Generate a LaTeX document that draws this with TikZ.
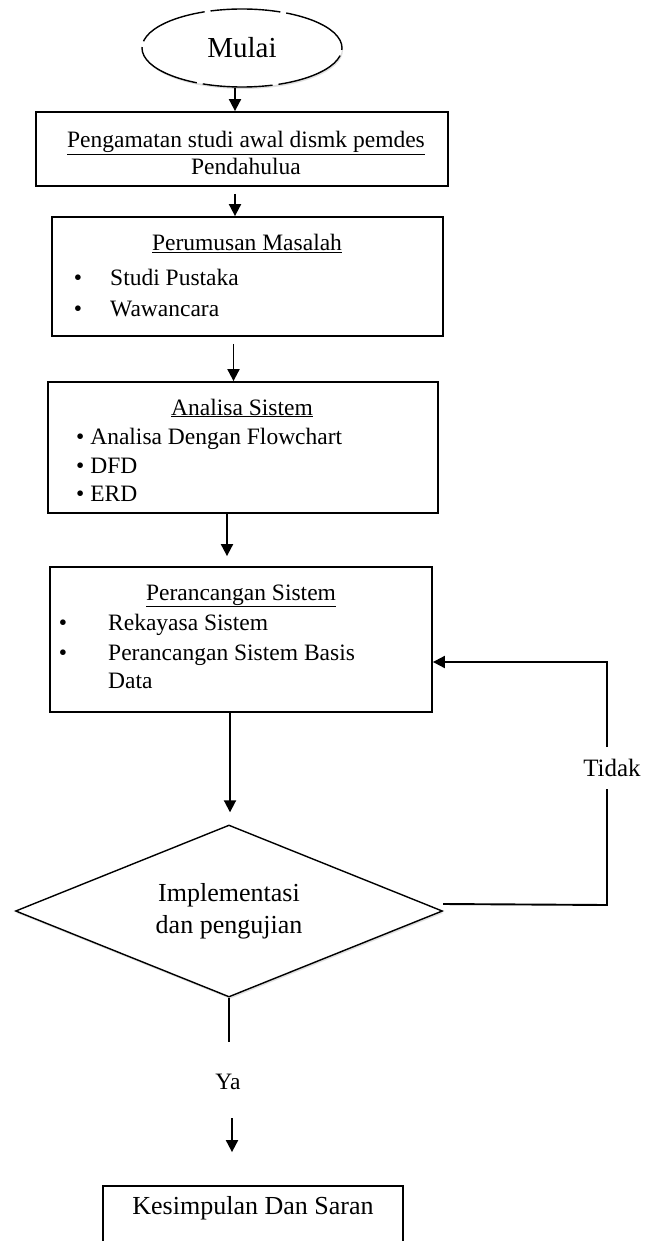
\documentclass[tikz,border=0pt]{standalone}
\usepackage{fontspec}
\setmainfont{Liberation Serif}
\usetikzlibrary{arrows.meta,shapes.geometric,shadows,calc}
\tikzset{
  box/.style={draw, rectangle, line width=1.8pt, inner sep=0pt, fill=white},
  arr/.style={line width=1.9pt, -{Triangle[width=12pt,length=12pt]}},
  ln/.style={line width=1.9pt},
  txt/.style={inner sep=0pt, font=\fontsize{23.5}{27}\selectfont},
}
\begin{document}
\begin{tikzpicture}[x=1pt,y=-1pt]
\useasboundingbox (0,0) rectangle (649,1241);
\clip (0,0) rectangle (649,1241);
\fill[white] (0,0) rectangle (649,1241);

% start
\node[ellipse, draw, line width=1.4pt, dash pattern=on 70pt off 6pt, fill=white,
      drop shadow={opacity=0.25, shadow xshift=1pt, shadow yshift=-2pt},
      minimum width=200pt, minimum height=78pt, inner sep=0pt,
      font=\fontsize{29}{33}\selectfont] (mulai) at (242,48) {Mulai};

% boxes
\node[box, minimum width=412pt, minimum height=74pt] (b1) at (242,149) {};
\node[box, minimum width=391pt, minimum height=119pt] (b2) at (247.5,276.5) {};
\node[box, minimum width=390pt, minimum height=131pt] (b3) at (243,447.5) {};
\node[box, minimum width=382pt, minimum height=145pt] (b4) at (241,639.5) {};
\node[box, minimum width=300pt, minimum height=64pt] (b5) at (253,1218) {};

% box 1 text
\node[txt, anchor=base] (t1a) at (246,148) {\underline{Pengamatan studi awal dismk pemdes}};
\node[txt, anchor=base] (t1b) at (246,175) {Pendahulua};

% box 2 text
\node[txt, anchor=base] (t2) at (247,251) {\underline{Perumusan Masalah}};
\node[txt, anchor=base] (t2bu1) at (78,285) {\textbullet};
\node[txt, anchor=base west] (t2i1) at (110,285) {Studi Pustaka};
\node[txt, anchor=base] (t2bu2) at (78,316) {\textbullet};
\node[txt, anchor=base west] (t2i2) at (110,316) {Wawancara};

% box 3 text
\node[txt, anchor=base] (t3) at (242,415) {\underline{Analisa Sistem}};
\node[txt, anchor=base west] (t3i1) at (76,444) {\textbullet\ Analisa Dengan Flowchart};
\node[txt, anchor=base west] (t3i2) at (76,473) {\textbullet\ DFD};
\node[txt, anchor=base west] (t3i3) at (76,501) {\textbullet\ ERD};

% box 4 text
\node[txt, anchor=base] (t4) at (241,600) {\underline{Perancangan Sistem}};
\node[txt, anchor=base] (t4bu1) at (63,630) {\textbullet};
\node[txt, anchor=base west] (t4i1) at (108,630) {Rekayasa Sistem};
\node[txt, anchor=base] (t4bu2) at (63,660) {\textbullet};
\node[txt, anchor=base west] (t4i2) at (108,660) {Perancangan Sistem Basis};
\node[txt, anchor=base west] (t4i3) at (108,688) {Data};

% decision
\node[diamond, draw, line width=1.4pt, fill=white, shape aspect=2.5, inner sep=0pt,
      drop shadow={opacity=0.25, shadow xshift=1pt, shadow yshift=-2pt},
      minimum width=427pt, minimum height=172pt,
      align=center, font=\fontsize{26}{32}\selectfont] (dia) at (229,911)
      {Implementasi\\dan pengujian};

% labels
\node[txt, font=\fontsize{25}{29}\selectfont, inner ysep=12pt] (tidak) at (612,768) {Tidak};
\node[txt, anchor=center] (ya) at (228,1082) {Ya};

% last box text
\node[txt, font=\fontsize{26}{30}\selectfont] (t5) at (253,1208) {Kesimpulan Dan Saran};

% connectors
\draw[arr] ($(mulai.south)+(-7,0)$) -- ($(mulai.south |- b1.north)+(-7,0)$);
\draw[arr] ($(b1.south)+(-7,7)$) -- ($(b1.south |- b2.north)+(-7,0)$);
\draw[arr] ($(b2.south)+(-14,7)$) -- ($(b2.south |- b3.north)+(-14,0)$);
\draw[arr] ($(b3.south)+(-16,0)$) -- ($(b3.south |- b4.north)+(-16,-10)$);
\draw[arr] ($(b4.south)+(-11,0)$) -- ($(b4.south |- dia.north)+(-11,-12)$);
\draw[ln] (dia.south) -- ($(dia.south |- ya.north)+(0,-32)$);
\draw[arr] ($(ya.south)+(4,28)$) -- ($(ya.south |- b5.north)+(4,-33)$);

% feedback loop
\coordinate (fbtop) at (607,662);
\coordinate (fbbot) at (607,905);
\draw[ln] ($(dia.east)+(0,-7)$) -- (fbbot) -- (fbbot |- tidak.south);
\draw[arr] (fbbot |- tidak.north) -- (fbtop) -- (b4.east |- fbtop);
\end{tikzpicture}
\end{document}
